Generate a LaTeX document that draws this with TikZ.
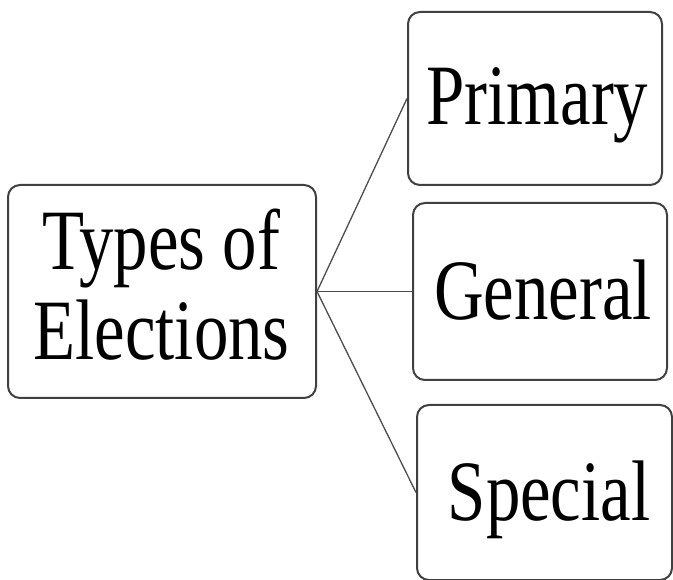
\documentclass[tikz,border=0pt]{standalone}
\usepackage{fontspec}
\setmainfont{Liberation Serif}
\usepackage{graphicx}
\newcommand{\narrow}[1]{\scalebox{0.8}[1]{#1}}
\tikzset{box/.style = {draw=black!75, line width=2pt, rounded corners=12pt, inner sep=0}}
\tikzset{lbl/.style = {anchor=base, inner sep=0, font=\fontsize{86}{90}\selectfont}}
\tikzset{link/.style = {draw=black!70, line width=1.3pt}}

\begin{document}
\begin{tikzpicture}[x=1pt, y=-1pt]
      \useasboundingbox (0,0) rectangle (673,580);

      \node[box, minimum width=308, minimum height=213] (types) at (162,291.5) {};
      \node[box, minimum width=254, minimum height=173] (primary) at (535,98.5) {};
      \node[box, minimum width=254, minimum height=177] (general) at (540,291.5) {};
      \node[box, minimum width=255, minimum height=175] (special) at (544.5,492.5) {};

      \node[lbl] (typesA) at (161,270) {\narrow{Types of}};
      \node[lbl] (typesB) at (161.5,360) {\narrow{Elections}};
      \node[lbl] (primaryT) at (537.5,125) {\narrow{Primary}};
      \node[lbl] (generalT) at (543,320) {\narrow{General}};
      \node[lbl] (specialT) at (549,520) {\narrow{Special}};

      \draw[link] (types.east) -- (primary.west);
      \draw[link] (types.east) -- (general.west);
      \draw[link] (types.east) -- (special.west);
\end{tikzpicture}
\end{document}
